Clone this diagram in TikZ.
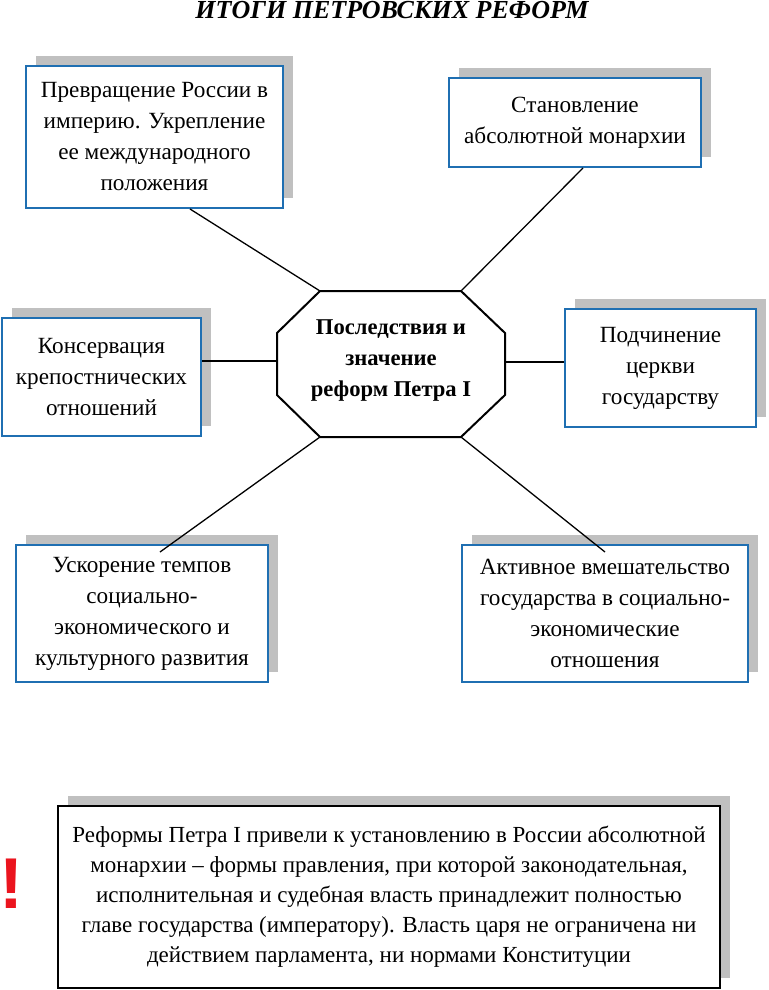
\documentclass[tikz,border=0pt]{standalone}
\usepackage{fontspec}
\setmainfont{Liberation Serif}
\newfontfamily\exclfont{Liberation Sans}
\usetikzlibrary{shadows}
\definecolor{boxblue}{RGB}{31,111,178}
\definecolor{shadowgray}{RGB}{192,192,192}
\definecolor{exclred}{RGB}{235,20,30}
\begin{document}
\begin{tikzpicture}[x=1pt,y=-1pt,
  shadowed/.style={drop shadow={shadow xshift=10pt,shadow yshift=10pt,fill=shadowgray,opacity=1}},
  box/.style={shadowed,draw=boxblue,line width=2pt,fill=white,inner sep=0pt,align=center,
    font=\fontsize{23.2}{31}\selectfont},
  notebox/.style={shadowed,draw=black,line width=1.5pt,fill=white,inner sep=0pt,align=center,
    font=\fontsize{23}{30}\selectfont},
  conn/.style={draw=black,line width=1.3pt},
  octa/.style={draw=black,line width=2pt,fill=white}]
\useasboundingbox (0,0) rectangle (768,990);

% title
\node[font=\fontsize{26}{28}\selectfont\bfseries\itshape] (title) at (392,10) {ИТОГИ ПЕТРОВСКИХ РЕФОРМ};

% boxes
\node[box,minimum width=257pt,minimum height=142pt] (b1) at (154.5,137)
  {Превращение России в\\империю. Укрепление\\ее международного\\положения};
\node[box,minimum width=252pt,minimum height=89pt] (b2) at (575,122.5)
  {Становление\\абсолютной монархии};
\node[box,minimum width=199pt,minimum height=118pt] (b3) at (101.5,377)
  {Консервация\\крепостнических\\отношений};
\node[box,minimum width=191pt,minimum height=118pt] (b4) at (660.5,368)
  {Подчинение\\церкви\\государству};
\node[box,minimum width=252pt,minimum height=137pt] (b5) at (142,613.5)
  {Ускорение темпов\\социально-\\экономического и\\культурного развития};
\node[box,minimum width=286pt,minimum height=137pt] (b6) at (605,613.5)
  {Активное вмешательство\\государства в социально-\\экономические\\отношения};

% octagon
\coordinate (o-n1) at (320,291);
\coordinate (o-n2) at (461,291);
\coordinate (o-e1) at (505,333);
\coordinate (o-e2) at (505,395);
\coordinate (o-s2) at (461,437);
\coordinate (o-s1) at (320,437);
\coordinate (o-w2) at (277,395);
\coordinate (o-w1) at (277,333);
\coordinate (o-w) at (277,361);
\coordinate (o-e) at (505,362);
\path[octa] (o-n1) -- (o-n2) -- (o-e1) -- (o-e2) -- (o-s2) -- (o-s1) -- (o-w2) -- (o-w1) -- cycle;
\node[align=center,font=\fontsize{22.6}{31}\selectfont\bfseries] (oct) at (391,361)
  {Последствия и\\значение\\реформ Петра I};

% connectors
\draw[conn] ([xshift=35.5pt]b1.south) -- (o-n1);
\draw[conn] ([xshift=8pt]b2.south) -- (o-n2);
\draw[conn] (o-w) -- (o-w -| b3.east);
\draw[conn] (o-e) -- (o-e -| b4.west);
\draw[conn] (o-s1) -- ([xshift=18pt,yshift=-8pt]b5.north);
\draw[conn] (o-s2) -- ([yshift=-8pt]b6.north);

% note
\node[notebox,minimum width=662pt,minimum height=182pt] (note) at (389,897)
  {Реформы Петра I привели к установлению в России абсолютной\\
   монархии – формы правления, при которой законодательная,\\
   исполнительная и судебная власть принадлежит полностью\\
   главе государства (императору). Власть царя не ограничена ни\\
   действием парламента, ни нормами Конституции};
\node[text=exclred,font=\fontsize{72}{72}\selectfont\exclfont\bfseries,inner sep=0pt] (excl) at (11,884) {!};
\end{tikzpicture}
\end{document}
